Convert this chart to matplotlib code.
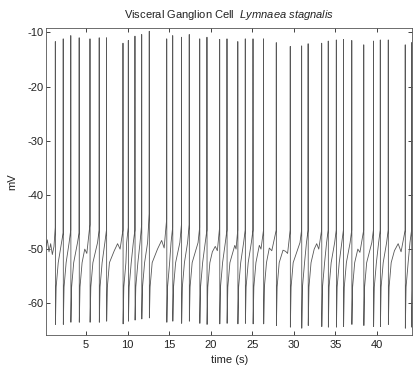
import numpy as np
import matplotlib
matplotlib.use("Agg")
import matplotlib.pyplot as plt

plt.rcParams["font.family"] = ["Liberation Sans", "DejaVu Sans"]
plt.rcParams["mathtext.fontset"] = "custom"
plt.rcParams["mathtext.rm"] = "Liberation Sans"
plt.rcParams["mathtext.it"] = "Liberation Sans:italic"
plt.rcParams["axes.unicode_minus"] = False

# spike times (s) with peak / trough (mV)
spike_t = [1.31, 2.26, 3.17, 4.18, 5.48, 6.59, 7.47, 9.45, 10.09, 10.89,
           11.70, 12.61, 14.71, 15.43, 16.49, 17.42, 18.68, 19.55, 21.08, 21.96,
           23.26, 24.16, 25.09, 26.36, 27.89, 29.57, 30.94, 31.72, 33.35, 34.14,
           35.11, 35.97, 36.97, 38.41, 39.58, 40.40, 41.36, 43.40, 44.17]
spike_peak = [-11.7, -11.2, -10.6, -11.0, -11.2, -11.0, -11.0, -12.0, -11.5, -10.7,
              -10.4, -9.8, -11.2, -10.6, -10.9, -10.4, -11.2, -10.9, -11.3, -11.2,
              -11.7, -11.2, -11.2, -11.2, -11.9, -12.6, -12.5, -12.1, -12.0, -11.6,
              -11.4, -11.3, -11.5, -12.3, -11.6, -11.4, -11.4, -12.3, -11.9]
spike_trough = [-63.9, -63.9, -63.5, -63.5, -63.5, -63.5, -63.3, -63.8, -63.3, -63.1,
                -62.9, -62.7, -63.5, -63.3, -63.7, -63.3, -63.7, -63.9, -63.8, -63.7,
                -63.8, -63.7, -63.8, -63.8, -64.1, -64.4, -64.6, -64.1, -64.3, -64.4,
                -64.4, -64.3, -63.9, -64.1, -64.3, -64.3, -63.9, -64.6, -64.4]
# level the membrane reaches just before each upstroke
spike_pre = [-46.0, -47.0, -46.5, -47.0, -45.5, -46.5, -46.5, -46.5, -46.0, -46.5,
             -45.5, -43.5, -44.5, -46.0, -45.5, -45.5, -46.0, -46.5, -46.0, -46.5,
             -46.5, -46.5, -46.5, -46.5, -46.5, -46.5, -46.5, -46.5, -46.5, -46.5,
             -46.5, -46.5, -46.5, -46.5, -46.5, -46.5, -46.5, -46.5, -46.5]
rebound_mv = -57.0   # fast recovery right after the trough
knee_mv = -52.5      # where the slow depolarisation bends over
late_mv = -48.8      # shortly before the next spike

# start of the record, before the first spike
start_t = [0.19, 0.35, 0.55, 0.75, 0.95, 1.15]
start_v = [-49.5, -48.3, -50.5, -49.0, -51.0, -49.5]

# slow bumps inside the longer interspike intervals
hump_t = [4.85, 5.10, 8.40, 8.80, 9.10, 13.60, 14.10, 14.40, 20.20, 20.55, 20.80,
          22.90, 23.05, 25.85, 26.05, 27.05, 27.35, 28.70, 29.00, 29.25,
          32.45, 32.75, 33.00, 37.70, 37.95, 42.10, 42.55, 42.90]
hump_v = [-50.0, -50.8, -50.3, -49.0, -50.0, -50.0, -48.4, -49.8, -50.5, -49.5, -50.3,
          -49.3, -50.0, -49.3, -50.0, -49.8, -50.3, -50.2, -50.4, -50.8,
          -50.0, -49.0, -50.0, -50.0, -50.6, -50.3, -49.0, -50.5]

pts = list(zip(start_t, start_v)) + list(zip(hump_t, hump_v))
for i, t in enumerate(spike_t):
    pts += [(t - 0.01, spike_pre[i]), (t, spike_peak[i]),
            (t + 0.015, spike_trough[i]), (t + 0.1, rebound_mv)]
    if i + 1 < len(spike_t):
        nxt = spike_t[i + 1]
        pts.append((t + 0.35, knee_mv))
        if not any(t + 0.35 < h < nxt for h in hump_t):
            pts.append((nxt - 0.2, late_mv))
pts.sort()
tt = np.array([p[0] for p in pts])
vv = np.array([p[1] for p in pts])

fig = plt.figure(figsize=(4.13, 3.67), dpi=100)
ax = fig.add_axes([0.1114, 0.0872, 0.8869, 0.8365])
ax.plot(tt, vv, color="#575757", lw=0.6)

ax.set_xlim(0.19, 44.25)
ax.set_ylim(-65.85, -9.2)
ax.set_xticks([5, 10, 15, 20, 25, 30, 35, 40])
ax.set_yticks([-60, -50, -40, -30, -20, -10])
ax.tick_params(direction="in", top=True, right=True, length=3, width=0.6,
               labelsize=8, colors="#222222")
ax.tick_params(axis="y", pad=2)
ax.tick_params(axis="x", pad=3.5)
for s in ax.spines.values():
    s.set_linewidth(0.6)
    s.set_color("#555555")

ax.set_xlabel("time (s)", fontsize=8, color="#222222")
ax.xaxis.set_label_coords(0.5, -0.066)
ax.set_ylabel("mV", fontsize=8, color="#222222")
ax.yaxis.set_label_coords(-0.079, 0.5)
ax.set_title(r"Visceral Ganglion Cell  $\it{Lymnaea\ stagnalis}$", fontsize=8,
             pad=7, color="#222222")

fig.savefig("out.png", dpi=100)
